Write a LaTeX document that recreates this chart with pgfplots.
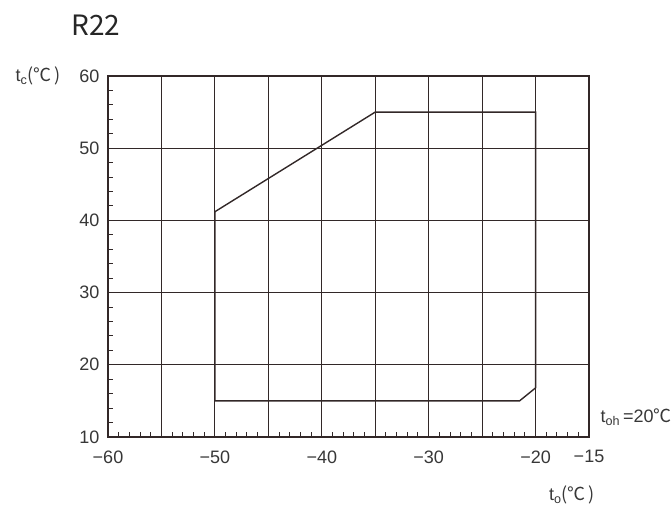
\documentclass[border=0pt]{standalone}
\usepackage{pgfplots}
\pgfplotsset{compat=1.18}
\usepackage{fontspec}
\setmainfont{Liberation Sans}
\newfontfamily\cjk{Noto Sans CJK SC}
\definecolor{ln}{RGB}{50,40,40}
\definecolor{tx}{RGB}{55,55,55}
\begin{document}
\begin{tikzpicture}[x=1pt,y=1pt]
\useasboundingbox (0,0) rectangle (671,508);
\begin{axis}[at={(108pt,71pt)}, anchor=south west, scale only axis, width=481pt, height=361pt,
  xmin=-60, xmax=-15, ymin=10, ymax=60,
  /pgf/number format/assume math mode=true,
  xtick={-60,-50,-40,-30,-20,-15},
  xticklabels={−60,−50,−40,−30,−20,−15},
  extra x ticks={-55,-45,-35,-25},
  extra x tick labels={},
  extra x tick style={grid=major, major tick length=0pt},
  ytick={10,20,...,60},
  yticklabels={10,20,30,40,50,60},
  minor xtick={-59,-58,...,-16},
  minor ytick={12,14,...,58},
  grid=major,
  major grid style={ln, line width=1.2pt},
  axis line style={ln, line width=1.4pt},
  tick style={ln, line width=1pt},
  major tick length=0pt, minor tick length=5pt,
  tick align=inside, xtick pos=bottom, ytick pos=left,
  ticklabel style={font=\fontsize{18}{18}\selectfont, text=tx},
  xticklabel style={yshift=-10pt},
  yticklabel style={xshift=-5pt},
]
\addplot[ln, line width=1.4pt, mark=none] coordinates {
  (-50,15) (-50,41.2) (-35,55) (-20,55) (-20,16.8) (-21.5,15) (-50,15)
};
\end{axis}
\node[text=black!85, font=\cjk\fontsize{28}{28}\selectfont] at (96,483) {R22};
\node[text=tx, font=\fontsize{18}{18}\selectfont, anchor=west] at (12,432) {t\textsubscript{c}{\cjk (℃\,)}};
\node[text=tx, font=\fontsize{18}{18}\selectfont, anchor=west] at (597,91) {t\textsubscript{oh}\,={}20{\cjk ℃}};
\node[text=tx, font=\fontsize{18}{18}\selectfont] at (572,13) {t\textsubscript{o}{\cjk (℃\,)}};
\end{tikzpicture}
\end{document}
